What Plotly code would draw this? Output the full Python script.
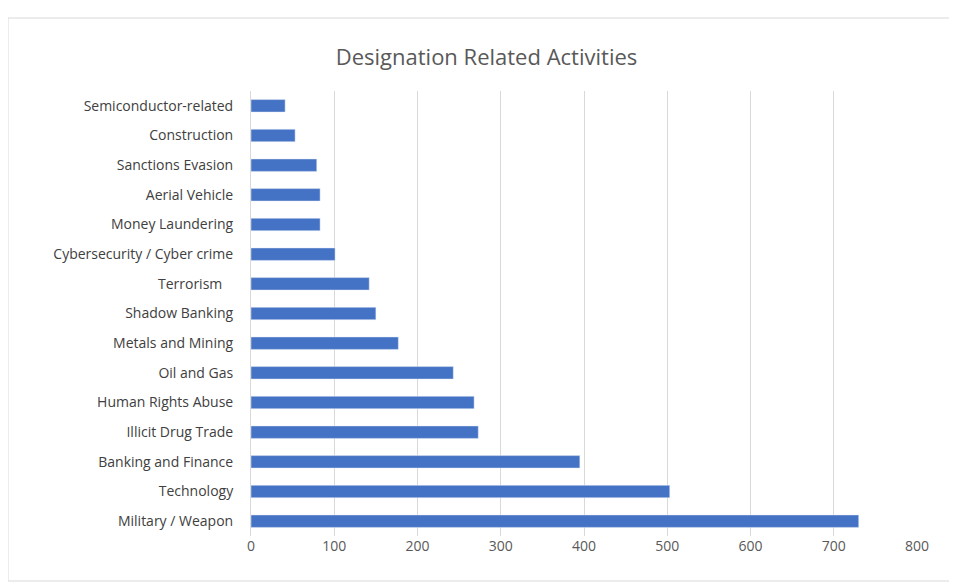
import plotly.graph_objects as go

categories = ["Military / Weapon", "Technology", "Banking and Finance", "Illicit Drug Trade",
              "Human Rights Abuse", "Oil and Gas", "Metals and Mining", "Shadow Banking",
              "Terrorism   ", "Cybersecurity / Cyber crime", "Money Laundering", "Aerial Vehicle",
              "Sanctions Evasion", "Construction", "Semiconductor-related"]
values = [730, 503, 395, 273, 268, 243, 177, 150, 142, 101, 83, 83, 79, 53, 41]
tick_vals = [0, 100, 200, 300, 400, 500, 600, 700, 800]

fig = go.Figure(go.Bar(y=categories, x=values, orientation="h", marker_color="#4472C4",
                       hoverinfo="x+y"))
fig.update_layout(
    width=957, height=583, paper_bgcolor="white", plot_bgcolor="white",
    margin=dict(l=243, r=48, t=83, b=55),
    bargap=0.58, showlegend=False,
    title=dict(text="Designation Related Activities", x=0.5, xanchor="center", y=0.928,
               font=dict(family="Open Sans, Calibri, sans-serif", size=22, color="#595959")),
    font=dict(family="Open Sans, Calibri, sans-serif", size=14, color="#404040"),
    xaxis=dict(range=[0, 800], tickvals=tick_vals, showgrid=True, gridcolor="#D9D9D9",
               gridwidth=1, zeroline=False, showline=False, ticks="", tickfont=dict(size=14, color="#595959")),
    yaxis=dict(showgrid=False, showline=True, linecolor="#D9D9D9", ticks="", automargin=False,
               ticklabelstandoff=14, tickfont=dict(size=14, color="#404040")),
    shapes=[dict(type="rect", xref="paper", yref="paper", x0=-243/666, x1=1+38/666,
                 y0=-45/445, y1=1+73/445, line=dict(color="#D9D9D9", width=1))],
)
fig.write_html("out.html")
